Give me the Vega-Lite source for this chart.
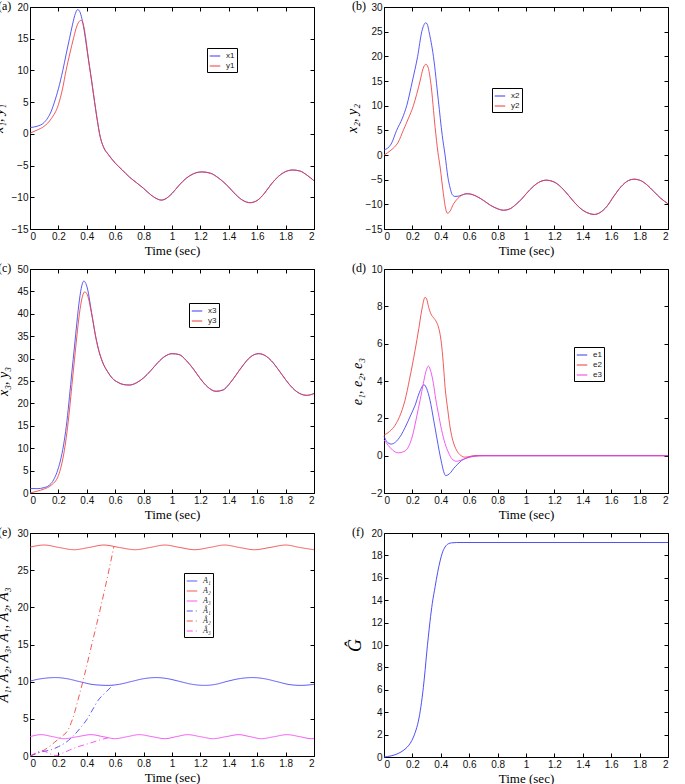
{
  "$schema": "https://vega.github.io/schema/vega-lite/v6.json",
  "background": "white",
  "padding": {"left": -10, "top": -1, "right": 0, "bottom": 0},
  "columns": 2,
  "spacing": {"row": 40, "column": 70},
  "bounds": "flush",
  "resolve": {"scale": {"color": "independent", "strokeDash": "independent"}, "legend": {"color": "independent", "strokeDash": "independent"}},
  "config": {
    "view": {"stroke": "#000", "strokeWidth": 1},
    "style": {
      "guide-label": {"font": "Liberation Sans", "fontSize": 10, "fill": "#111"},
      "guide-title": {"font": "Liberation Serif", "fontWeight": "normal", "fill": "#000"}
    },
    "axis": {"domain": false, "grid": false, "tickSize": -4, "tickColor": "#000", "labelFont": "Liberation Sans", "labelFontSize": 10, "labelColor": "#111", "labelPadding": 6, "titleFont": "Liberation Serif", "titleFontWeight": "normal", "titleColor": "#000", "format": "~r"},
    "axisX": {"titleFontSize": 13, "titlePadding": 3, "titleFont": "Liberation Serif", "titleFontWeight": "normal", "labelFont": "Liberation Sans"},
    "axisY": {"titleFontSize": 14, "titleFontStyle": "italic", "titlePadding": 6, "titleFont": "Liberation Serif", "titleFontWeight": "normal", "labelFont": "Liberation Sans"},
    "title": {"anchor": "start", "frame": "group", "dx": -32, "offset": -11, "fontSize": 12, "font": "Liberation Serif", "fontWeight": "normal", "color": "#000"},
    "legend": {"orient": "none", "strokeColor": "#000", "fillColor": "#fff", "padding": 2, "symbolType": "stroke", "symbolSize": 110, "symbolStrokeWidth": 1.2, "labelFont": "Liberation Sans", "labelFontSize": 8, "labelColor": "#222", "rowPadding": 0, "labelOffset": 5}
  },
  "concat": [
    {
      "title": "(a)",
      "width": 284, "height": 222,
      "data": {"values": [
        {"t":0,"v":1.0,"s":"x1"},{"t":0.05,"v":1.2,"s":"x1"},{"t":0.1,"v":1.8,"s":"x1"},{"t":0.15,"v":3.6,"s":"x1"},{"t":0.172,"v":5.0,"s":"x1"},{"t":0.2,"v":7.1,"s":"x1"},{"t":0.231,"v":10.0,"s":"x1"},{"t":0.255,"v":12.6,"s":"x1"},{"t":0.278,"v":15.0,"s":"x1"},{"t":0.3,"v":17.3,"s":"x1"},{"t":0.32,"v":19.0,"s":"x1"},{"t":0.336,"v":19.6,"s":"x1"},{"t":0.35,"v":19.3,"s":"x1"},{"t":0.365,"v":18.2,"s":"x1"},{"t":0.38,"v":16.5,"s":"x1"},{"t":0.4,"v":13.5,"s":"x1"},{"t":0.42,"v":10.5,"s":"x1"},
        {"t":0.435,"v":8.2,"s":"x1"},{"t":0.455,"v":5.0,"s":"x1"},{"t":0.475,"v":2.0,"s":"x1"},{"t":0.49,"v":0.0,"s":"x1"},{"t":0.52,"v":-2.2,"s":"x1"},{"t":0.55,"v":-3.2,"s":"x1"},{"t":0.6,"v":-4.6,"s":"x1"},{"t":0.65,"v":-5.7,"s":"x1"},{"t":0.7,"v":-6.8,"s":"x1"},{"t":0.75,"v":-7.7,"s":"x1"},{"t":0.8,"v":-8.6,"s":"x1"},{"t":0.85,"v":-9.6,"s":"x1"},{"t":0.9,"v":-10.3,"s":"x1"},{"t":0.925,"v":-10.45,"s":"x1"},{"t":0.95,"v":-10.3,"s":"x1"},{"t":1.0,"v":-9.4,"s":"x1"},{"t":1.05,"v":-8.1,"s":"x1"},{"t":1.1,"v":-7.0,"s":"x1"},{"t":1.15,"v":-6.3,"s":"x1"},{"t":1.21,"v":-6.0,"s":"x1"},{"t":1.27,"v":-6.2,"s":"x1"},{"t":1.33,"v":-7.0,"s":"x1"},{"t":1.4,"v":-8.4,"s":"x1"},{"t":1.45,"v":-9.6,"s":"x1"},{"t":1.5,"v":-10.5,"s":"x1"},{"t":1.55,"v":-10.85,"s":"x1"},{"t":1.6,"v":-10.5,"s":"x1"},{"t":1.65,"v":-9.4,"s":"x1"},{"t":1.7,"v":-7.9,"s":"x1"},{"t":1.75,"v":-6.7,"s":"x1"},{"t":1.8,"v":-5.95,"s":"x1"},{"t":1.85,"v":-5.7,"s":"x1"},{"t":1.9,"v":-5.85,"s":"x1"},{"t":1.95,"v":-6.5,"s":"x1"},{"t":2.0,"v":-7.4,"s":"x1"},
        {"t":0,"v":0.1,"s":"y1"},{"t":0.05,"v":0.6,"s":"y1"},{"t":0.1,"v":1.2,"s":"y1"},{"t":0.15,"v":2.4,"s":"y1"},{"t":0.2,"v":4.6,"s":"y1"},{"t":0.23,"v":7.2,"s":"y1"},{"t":0.254,"v":10.0,"s":"y1"},{"t":0.28,"v":12.6,"s":"y1"},{"t":0.308,"v":15.2,"s":"y1"},{"t":0.33,"v":17.0,"s":"y1"},{"t":0.35,"v":17.8,"s":"y1"},{"t":0.36,"v":17.9,"s":"y1"},{"t":0.375,"v":17.3,"s":"y1"},{"t":0.39,"v":15.5,"s":"y1"},{"t":0.41,"v":12.0,"s":"y1"},
        {"t":0.435,"v":8.2,"s":"y1"},{"t":0.455,"v":5.0,"s":"y1"},{"t":0.475,"v":2.0,"s":"y1"},{"t":0.49,"v":0.0,"s":"y1"},{"t":0.52,"v":-2.2,"s":"y1"},{"t":0.55,"v":-3.2,"s":"y1"},{"t":0.6,"v":-4.6,"s":"y1"},{"t":0.65,"v":-5.7,"s":"y1"},{"t":0.7,"v":-6.8,"s":"y1"},{"t":0.75,"v":-7.7,"s":"y1"},{"t":0.8,"v":-8.6,"s":"y1"},{"t":0.85,"v":-9.6,"s":"y1"},{"t":0.9,"v":-10.3,"s":"y1"},{"t":0.925,"v":-10.45,"s":"y1"},{"t":0.95,"v":-10.3,"s":"y1"},{"t":1.0,"v":-9.4,"s":"y1"},{"t":1.05,"v":-8.1,"s":"y1"},{"t":1.1,"v":-7.0,"s":"y1"},{"t":1.15,"v":-6.3,"s":"y1"},{"t":1.21,"v":-6.0,"s":"y1"},{"t":1.27,"v":-6.2,"s":"y1"},{"t":1.33,"v":-7.0,"s":"y1"},{"t":1.4,"v":-8.4,"s":"y1"},{"t":1.45,"v":-9.6,"s":"y1"},{"t":1.5,"v":-10.5,"s":"y1"},{"t":1.55,"v":-10.85,"s":"y1"},{"t":1.6,"v":-10.5,"s":"y1"},{"t":1.65,"v":-9.4,"s":"y1"},{"t":1.7,"v":-7.9,"s":"y1"},{"t":1.75,"v":-6.7,"s":"y1"},{"t":1.8,"v":-5.95,"s":"y1"},{"t":1.85,"v":-5.7,"s":"y1"},{"t":1.9,"v":-5.85,"s":"y1"},{"t":1.95,"v":-6.5,"s":"y1"},{"t":2.0,"v":-7.4,"s":"y1"}
      ]},
      "layer": [
        {"mark": {"type": "line", "strokeWidth": 1, "interpolate": "monotone", "opacity": 0.85},
         "encoding": {
           "x": {"field": "t", "type": "quantitative", "scale": {"domain": [0, 2], "nice": false, "zero": false}, "axis": {"orient": "bottom", "values": [0,0.2,0.4,0.6,0.8,1,1.2,1.4,1.6,1.8,2], "format": "~r", "title": "Time (sec)", "titleFontWeight": "normal"}},
           "y": {"field": "v", "type": "quantitative", "scale": {"domain": [-15, 20], "nice": false, "zero": false}, "axis": {"orient": "left", "values": [-15,-10,-5,0,5,10,15,20], "format": "~r", "title": "x₁, y₁"}},
           "color": {"field": "s", "type": "nominal", "scale": {"domain": ["x1", "y1"], "range": ["#3c3cf5", "#f03c3c"]}, "legend": {"title": null, "legendX": 177, "legendY": 41}}
         }},
        {"mark": {"type": "line", "opacity": 0},
         "encoding": {
           "x": {"field": "t", "type": "quantitative", "axis": {"orient": "top", "values": [0,0.2,0.4,0.6,0.8,1,1.2,1.4,1.6,1.8,2], "labels": false, "title": null}},
           "y": {"field": "v", "type": "quantitative", "axis": {"orient": "right", "values": [-15,-10,-5,0,5,10,15,20], "labels": false, "title": null}}
         }}
      ],
      "resolve": {"axis": {"x": "independent", "y": "independent"}}
    },
    {
      "title": "(b)",
      "width": 284, "height": 222,
      "data": {"values": [
        {"t":0,"v":1.0,"s":"x2"},{"t":0.05,"v":2.2,"s":"x2"},{"t":0.089,"v":5.0,"s":"x2"},{"t":0.13,"v":7.5,"s":"x2"},{"t":0.16,"v":10.0,"s":"x2"},{"t":0.2,"v":15.0,"s":"x2"},{"t":0.237,"v":20.0,"s":"x2"},{"t":0.266,"v":25.0,"s":"x2"},{"t":0.28,"v":26.3,"s":"x2"},{"t":0.294,"v":26.8,"s":"x2"},{"t":0.305,"v":26.5,"s":"x2"},{"t":0.317,"v":25.0,"s":"x2"},{"t":0.348,"v":20.0,"s":"x2"},{"t":0.383,"v":11.0,"s":"x2"},{"t":0.41,"v":4.0,"s":"x2"},{"t":0.43,"v":0.0,"s":"x2"},{"t":0.45,"v":-4.5,"s":"x2"},{"t":0.465,"v":-6.6,"s":"x2"},{"t":0.48,"v":-8.0,"s":"x2"},{"t":0.5,"v":-8.4,"s":"x2"},{"t":0.53,"v":-8.3,"s":"x2"},{"t":0.56,"v":-8.0,"s":"x2"},
        {"t":0.585,"v":-7.85,"s":"x2"},{"t":0.62,"v":-8.0,"s":"x2"},{"t":0.66,"v":-8.5,"s":"x2"},{"t":0.7,"v":-9.2,"s":"x2"},{"t":0.75,"v":-10.2,"s":"x2"},{"t":0.8,"v":-10.9,"s":"x2"},{"t":0.84,"v":-11.2,"s":"x2"},{"t":0.88,"v":-11.0,"s":"x2"},{"t":0.93,"v":-10.0,"s":"x2"},{"t":0.97,"v":-8.9,"s":"x2"},{"t":1.0,"v":-7.9,"s":"x2"},{"t":1.05,"v":-6.4,"s":"x2"},{"t":1.1,"v":-5.4,"s":"x2"},{"t":1.14,"v":-5.1,"s":"x2"},{"t":1.2,"v":-5.5,"s":"x2"},{"t":1.25,"v":-6.6,"s":"x2"},{"t":1.3,"v":-8.2,"s":"x2"},{"t":1.35,"v":-9.9,"s":"x2"},{"t":1.4,"v":-11.2,"s":"x2"},{"t":1.45,"v":-11.9,"s":"x2"},{"t":1.48,"v":-12.05,"s":"x2"},{"t":1.52,"v":-11.7,"s":"x2"},{"t":1.57,"v":-10.4,"s":"x2"},{"t":1.62,"v":-8.3,"s":"x2"},{"t":1.67,"v":-6.4,"s":"x2"},{"t":1.72,"v":-5.2,"s":"x2"},{"t":1.76,"v":-4.9,"s":"x2"},{"t":1.8,"v":-5.1,"s":"x2"},{"t":1.85,"v":-6.0,"s":"x2"},{"t":1.9,"v":-7.4,"s":"x2"},{"t":1.95,"v":-8.8,"s":"x2"},{"t":2.0,"v":-9.9,"s":"x2"},
        {"t":0,"v":0.0,"s":"y2"},{"t":0.05,"v":1.0,"s":"y2"},{"t":0.1,"v":2.6,"s":"y2"},{"t":0.136,"v":5.0,"s":"y2"},{"t":0.17,"v":7.3,"s":"y2"},{"t":0.207,"v":10.0,"s":"y2"},{"t":0.23,"v":12.3,"s":"y2"},{"t":0.254,"v":15.0,"s":"y2"},{"t":0.275,"v":17.5,"s":"y2"},{"t":0.294,"v":18.4,"s":"y2"},{"t":0.31,"v":17.8,"s":"y2"},{"t":0.33,"v":14.5,"s":"y2"},{"t":0.36,"v":5.6,"s":"y2"},{"t":0.38,"v":0.5,"s":"y2"},{"t":0.395,"v":-2.4,"s":"y2"},{"t":0.418,"v":-7.8,"s":"y2"},{"t":0.435,"v":-11.0,"s":"y2"},{"t":0.447,"v":-11.8,"s":"y2"},{"t":0.46,"v":-11.6,"s":"y2"},{"t":0.49,"v":-9.9,"s":"y2"},{"t":0.52,"v":-8.8,"s":"y2"},{"t":0.55,"v":-8.1,"s":"y2"},
        {"t":0.585,"v":-7.85,"s":"y2"},{"t":0.62,"v":-8.0,"s":"y2"},{"t":0.66,"v":-8.5,"s":"y2"},{"t":0.7,"v":-9.2,"s":"y2"},{"t":0.75,"v":-10.2,"s":"y2"},{"t":0.8,"v":-10.9,"s":"y2"},{"t":0.84,"v":-11.2,"s":"y2"},{"t":0.88,"v":-11.0,"s":"y2"},{"t":0.93,"v":-10.0,"s":"y2"},{"t":0.97,"v":-8.9,"s":"y2"},{"t":1.0,"v":-7.9,"s":"y2"},{"t":1.05,"v":-6.4,"s":"y2"},{"t":1.1,"v":-5.4,"s":"y2"},{"t":1.14,"v":-5.1,"s":"y2"},{"t":1.2,"v":-5.5,"s":"y2"},{"t":1.25,"v":-6.6,"s":"y2"},{"t":1.3,"v":-8.2,"s":"y2"},{"t":1.35,"v":-9.9,"s":"y2"},{"t":1.4,"v":-11.2,"s":"y2"},{"t":1.45,"v":-11.9,"s":"y2"},{"t":1.48,"v":-12.05,"s":"y2"},{"t":1.52,"v":-11.7,"s":"y2"},{"t":1.57,"v":-10.4,"s":"y2"},{"t":1.62,"v":-8.3,"s":"y2"},{"t":1.67,"v":-6.4,"s":"y2"},{"t":1.72,"v":-5.2,"s":"y2"},{"t":1.76,"v":-4.9,"s":"y2"},{"t":1.8,"v":-5.1,"s":"y2"},{"t":1.85,"v":-6.0,"s":"y2"},{"t":1.9,"v":-7.4,"s":"y2"},{"t":1.95,"v":-8.8,"s":"y2"},{"t":2.0,"v":-9.9,"s":"y2"}
      ]},
      "layer": [
        {"mark": {"type": "line", "strokeWidth": 1, "interpolate": "monotone", "opacity": 0.85},
         "encoding": {
           "x": {"field": "t", "type": "quantitative", "scale": {"domain": [0, 2], "nice": false, "zero": false}, "axis": {"orient": "bottom", "values": [0,0.2,0.4,0.6,0.8,1,1.2,1.4,1.6,1.8,2], "format": "~r", "title": "Time (sec)", "titleFontWeight": "normal"}},
           "y": {"field": "v", "type": "quantitative", "scale": {"domain": [-15, 30], "nice": false, "zero": false}, "axis": {"orient": "left", "values": [-15,-10,-5,0,5,10,15,20,25,30], "format": "~r", "title": "x₂, y₂"}},
           "color": {"field": "s", "type": "nominal", "scale": {"domain": ["x2", "y2"], "range": ["#3c3cf5", "#f03c3c"]}, "legend": {"title": null, "legendX": 108, "legendY": 81}}
         }},
        {"mark": {"type": "line", "opacity": 0},
         "encoding": {
           "x": {"field": "t", "type": "quantitative", "axis": {"orient": "top", "values": [0,0.2,0.4,0.6,0.8,1,1.2,1.4,1.6,1.8,2], "labels": false, "title": null}},
           "y": {"field": "v", "type": "quantitative", "axis": {"orient": "right", "values": [-15,-10,-5,0,5,10,15,20,25,30], "labels": false, "title": null}}
         }}
      ],
      "resolve": {"axis": {"x": "independent", "y": "independent"}}
    },
    {
      "title": "(c)",
      "width": 284, "height": 224,
      "data": {"values": [
        {"t":0,"v":1.0,"s":"x3"},{"t":0.05,"v":0.97,"s":"x3"},{"t":0.1,"v":1.2,"s":"x3"},{"t":0.148,"v":2.1,"s":"x3"},{"t":0.195,"v":5.1,"s":"x3"},{"t":0.22,"v":8.0,"s":"x3"},{"t":0.242,"v":11.8,"s":"x3"},{"t":0.26,"v":16.0,"s":"x3"},{"t":0.278,"v":21.5,"s":"x3"},{"t":0.295,"v":27.0,"s":"x3"},{"t":0.313,"v":32.6,"s":"x3"},{"t":0.33,"v":38.0,"s":"x3"},{"t":0.348,"v":43.1,"s":"x3"},{"t":0.365,"v":46.3,"s":"x3"},{"t":0.379,"v":47.3,"s":"x3"},{"t":0.393,"v":46.8,"s":"x3"},{"t":0.407,"v":45.3,"s":"x3"},{"t":0.425,"v":42.0,"s":"x3"},{"t":0.442,"v":38.6,"s":"x3"},
        {"t":0.46,"v":35.3,"s":"x3"},{"t":0.478,"v":32.6,"s":"x3"},{"t":0.51,"v":29.3,"s":"x3"},{"t":0.548,"v":27.0,"s":"x3"},{"t":0.58,"v":25.6,"s":"x3"},{"t":0.619,"v":24.7,"s":"x3"},{"t":0.66,"v":24.2,"s":"x3"},{"t":0.7,"v":24.1,"s":"x3"},{"t":0.75,"v":24.6,"s":"x3"},{"t":0.8,"v":25.7,"s":"x3"},{"t":0.85,"v":27.3,"s":"x3"},{"t":0.9,"v":29.1,"s":"x3"},{"t":0.95,"v":30.5,"s":"x3"},{"t":1.0,"v":31.1,"s":"x3"},{"t":1.05,"v":30.9,"s":"x3"},{"t":1.1,"v":29.6,"s":"x3"},{"t":1.15,"v":27.7,"s":"x3"},{"t":1.2,"v":25.5,"s":"x3"},{"t":1.25,"v":23.7,"s":"x3"},{"t":1.31,"v":22.7,"s":"x3"},{"t":1.36,"v":23.0,"s":"x3"},{"t":1.4,"v":24.2,"s":"x3"},{"t":1.45,"v":26.3,"s":"x3"},{"t":1.5,"v":28.5,"s":"x3"},{"t":1.55,"v":30.3,"s":"x3"},{"t":1.61,"v":31.1,"s":"x3"},{"t":1.66,"v":30.6,"s":"x3"},{"t":1.7,"v":29.5,"s":"x3"},{"t":1.75,"v":27.5,"s":"x3"},{"t":1.8,"v":25.3,"s":"x3"},{"t":1.85,"v":23.4,"s":"x3"},{"t":1.9,"v":22.2,"s":"x3"},{"t":1.95,"v":21.8,"s":"x3"},{"t":2.0,"v":22.2,"s":"x3"},
        {"t":0,"v":0.0,"s":"y3"},{"t":0.05,"v":0.4,"s":"y3"},{"t":0.1,"v":0.9,"s":"y3"},{"t":0.148,"v":1.7,"s":"y3"},{"t":0.2,"v":3.9,"s":"y3"},{"t":0.22,"v":6.0,"s":"y3"},{"t":0.242,"v":9.5,"s":"y3"},{"t":0.26,"v":13.5,"s":"y3"},{"t":0.278,"v":18.5,"s":"y3"},{"t":0.295,"v":24.0,"s":"y3"},{"t":0.313,"v":29.7,"s":"y3"},{"t":0.33,"v":35.0,"s":"y3"},{"t":0.348,"v":40.0,"s":"y3"},{"t":0.365,"v":43.3,"s":"y3"},{"t":0.385,"v":44.9,"s":"y3"},{"t":0.4,"v":44.5,"s":"y3"},{"t":0.415,"v":43.0,"s":"y3"},{"t":0.43,"v":40.6,"s":"y3"},{"t":0.445,"v":38.2,"s":"y3"},
        {"t":0.46,"v":35.3,"s":"y3"},{"t":0.478,"v":32.6,"s":"y3"},{"t":0.51,"v":29.3,"s":"y3"},{"t":0.548,"v":27.0,"s":"y3"},{"t":0.58,"v":25.6,"s":"y3"},{"t":0.619,"v":24.7,"s":"y3"},{"t":0.66,"v":24.2,"s":"y3"},{"t":0.7,"v":24.1,"s":"y3"},{"t":0.75,"v":24.6,"s":"y3"},{"t":0.8,"v":25.7,"s":"y3"},{"t":0.85,"v":27.3,"s":"y3"},{"t":0.9,"v":29.1,"s":"y3"},{"t":0.95,"v":30.5,"s":"y3"},{"t":1.0,"v":31.1,"s":"y3"},{"t":1.05,"v":30.9,"s":"y3"},{"t":1.1,"v":29.6,"s":"y3"},{"t":1.15,"v":27.7,"s":"y3"},{"t":1.2,"v":25.5,"s":"y3"},{"t":1.25,"v":23.7,"s":"y3"},{"t":1.31,"v":22.7,"s":"y3"},{"t":1.36,"v":23.0,"s":"y3"},{"t":1.4,"v":24.2,"s":"y3"},{"t":1.45,"v":26.3,"s":"y3"},{"t":1.5,"v":28.5,"s":"y3"},{"t":1.55,"v":30.3,"s":"y3"},{"t":1.61,"v":31.1,"s":"y3"},{"t":1.66,"v":30.6,"s":"y3"},{"t":1.7,"v":29.5,"s":"y3"},{"t":1.75,"v":27.5,"s":"y3"},{"t":1.8,"v":25.3,"s":"y3"},{"t":1.85,"v":23.4,"s":"y3"},{"t":1.9,"v":22.2,"s":"y3"},{"t":1.95,"v":21.8,"s":"y3"},{"t":2.0,"v":22.2,"s":"y3"}
      ]},
      "layer": [
        {"mark": {"type": "line", "strokeWidth": 1, "interpolate": "monotone", "opacity": 0.85},
         "encoding": {
           "x": {"field": "t", "type": "quantitative", "scale": {"domain": [0, 2], "nice": false, "zero": false}, "axis": {"orient": "bottom", "values": [0,0.2,0.4,0.6,0.8,1,1.2,1.4,1.6,1.8,2], "format": "~r", "title": "Time (sec)", "titleFontWeight": "normal"}},
           "y": {"field": "v", "type": "quantitative", "scale": {"domain": [0, 50], "nice": false, "zero": false}, "axis": {"orient": "left", "values": [0,5,10,15,20,25,30,35,40,45,50], "format": "~r", "title": "x₃, y₃"}},
           "color": {"field": "s", "type": "nominal", "scale": {"domain": ["x3", "y3"], "range": ["#3c3cf5", "#f03c3c"]}, "legend": {"title": null, "legendX": 159, "legendY": 34}}
         }},
        {"mark": {"type": "line", "opacity": 0},
         "encoding": {
           "x": {"field": "t", "type": "quantitative", "axis": {"orient": "top", "values": [0,0.2,0.4,0.6,0.8,1,1.2,1.4,1.6,1.8,2], "labels": false, "title": null}},
           "y": {"field": "v", "type": "quantitative", "axis": {"orient": "right", "values": [0,5,10,15,20,25,30,35,40,45,50], "labels": false, "title": null}}
         }}
      ],
      "resolve": {"axis": {"x": "independent", "y": "independent"}}
    },
    {
      "title": "(d)",
      "width": 284, "height": 224,
      "data": {"values": [
        {"t":0,"v":1.05,"s":"e1"},{"t":0.02,"v":0.75,"s":"e1"},{"t":0.05,"v":0.62,"s":"e1"},{"t":0.08,"v":0.72,"s":"e1"},{"t":0.12,"v":1.1,"s":"e1"},{"t":0.148,"v":1.5,"s":"e1"},{"t":0.19,"v":2.2,"s":"e1"},{"t":0.219,"v":2.7,"s":"e1"},{"t":0.25,"v":3.4,"s":"e1"},{"t":0.282,"v":3.8,"s":"e1"},{"t":0.3,"v":3.6,"s":"e1"},{"t":0.324,"v":2.97,"s":"e1"},{"t":0.35,"v":1.9,"s":"e1"},{"t":0.371,"v":1.0,"s":"e1"},{"t":0.39,"v":0.2,"s":"e1"},{"t":0.407,"v":-0.43,"s":"e1"},{"t":0.42,"v":-0.85,"s":"e1"},{"t":0.435,"v":-1.07,"s":"e1"},{"t":0.45,"v":-1.03,"s":"e1"},{"t":0.47,"v":-0.9,"s":"e1"},{"t":0.489,"v":-0.7,"s":"e1"},{"t":0.52,"v":-0.45,"s":"e1"},{"t":0.548,"v":-0.25,"s":"e1"},{"t":0.58,"v":-0.13,"s":"e1"},{"t":0.618,"v":-0.05,"s":"e1"},{"t":0.665,"v":0.0,"s":"e1"},{"t":2.0,"v":0.0,"s":"e1"},
        {"t":0,"v":1.1,"s":"e2"},{"t":0.04,"v":1.3,"s":"e2"},{"t":0.078,"v":1.63,"s":"e2"},{"t":0.11,"v":2.1,"s":"e2"},{"t":0.148,"v":2.97,"s":"e2"},{"t":0.18,"v":4.1,"s":"e2"},{"t":0.219,"v":5.65,"s":"e2"},{"t":0.245,"v":6.8,"s":"e2"},{"t":0.266,"v":7.8,"s":"e2"},{"t":0.289,"v":8.48,"s":"e2"},{"t":0.3,"v":8.4,"s":"e2"},{"t":0.313,"v":8.0,"s":"e2"},{"t":0.33,"v":7.6,"s":"e2"},{"t":0.348,"v":7.4,"s":"e2"},{"t":0.37,"v":7.15,"s":"e2"},{"t":0.383,"v":6.9,"s":"e2"},{"t":0.395,"v":6.5,"s":"e2"},{"t":0.407,"v":5.83,"s":"e2"},{"t":0.42,"v":4.7,"s":"e2"},{"t":0.43,"v":3.69,"s":"e2"},{"t":0.45,"v":2.4,"s":"e2"},{"t":0.465,"v":1.54,"s":"e2"},{"t":0.48,"v":0.95,"s":"e2"},{"t":0.5,"v":0.47,"s":"e2"},{"t":0.52,"v":0.18,"s":"e2"},{"t":0.543,"v":0.0,"s":"e2"},{"t":0.565,"v":-0.08,"s":"e2"},{"t":0.6,"v":-0.05,"s":"e2"},{"t":0.63,"v":0.0,"s":"e2"},{"t":2.0,"v":0.0,"s":"e2"},
        {"t":0,"v":0.85,"s":"e3"},{"t":0.03,"v":0.55,"s":"e3"},{"t":0.06,"v":0.3,"s":"e3"},{"t":0.1,"v":0.15,"s":"e3"},{"t":0.14,"v":0.22,"s":"e3"},{"t":0.172,"v":0.47,"s":"e3"},{"t":0.2,"v":1.05,"s":"e3"},{"t":0.23,"v":2.08,"s":"e3"},{"t":0.255,"v":3.0,"s":"e3"},{"t":0.277,"v":3.87,"s":"e3"},{"t":0.295,"v":4.5,"s":"e3"},{"t":0.313,"v":4.8,"s":"e3"},{"t":0.33,"v":4.5,"s":"e3"},{"t":0.348,"v":3.87,"s":"e3"},{"t":0.365,"v":3.0,"s":"e3"},{"t":0.383,"v":2.26,"s":"e3"},{"t":0.405,"v":1.4,"s":"e3"},{"t":0.43,"v":0.65,"s":"e3"},{"t":0.455,"v":0.15,"s":"e3"},{"t":0.477,"v":-0.16,"s":"e3"},{"t":0.512,"v":-0.3,"s":"e3"},{"t":0.54,"v":-0.25,"s":"e3"},{"t":0.571,"v":-0.16,"s":"e3"},{"t":0.6,"v":-0.08,"s":"e3"},{"t":0.642,"v":-0.03,"s":"e3"},{"t":0.7,"v":0.0,"s":"e3"},{"t":2.0,"v":0.0,"s":"e3"}
      ]},
      "layer": [
        {"mark": {"type": "line", "strokeWidth": 1, "interpolate": "monotone", "opacity": 0.85},
         "encoding": {
           "x": {"field": "t", "type": "quantitative", "scale": {"domain": [0, 2], "nice": false, "zero": false}, "axis": {"orient": "bottom", "values": [0,0.2,0.4,0.6,0.8,1,1.2,1.4,1.6,1.8,2], "format": "~r", "title": "Time (sec)", "titleFontWeight": "normal"}},
           "y": {"field": "v", "type": "quantitative", "scale": {"domain": [-2, 10], "nice": false, "zero": false}, "axis": {"orient": "left", "values": [-2,0,2,4,6,8,10], "format": "~r", "title": "e₁, e₂, e₃"}},
           "color": {"field": "s", "type": "nominal", "scale": {"domain": ["e1", "e2", "e3"], "range": ["#3c3cf5", "#f03c3c", "#f03cf0"]}, "legend": {"title": null, "legendX": 190, "legendY": 78}}
         }},
        {"mark": {"type": "line", "opacity": 0},
         "encoding": {
           "x": {"field": "t", "type": "quantitative", "axis": {"orient": "top", "values": [0,0.2,0.4,0.6,0.8,1,1.2,1.4,1.6,1.8,2], "labels": false, "title": null}},
           "y": {"field": "v", "type": "quantitative", "axis": {"orient": "right", "values": [-2,0,2,4,6,8,10], "labels": false, "title": null}}
         }}
      ],
      "resolve": {"axis": {"x": "independent", "y": "independent"}}
    },
    {
      "title": "(e)",
      "width": 284, "height": 223,
      "data": {"values": [
        {"t":0,"v":10.07,"s":"A₁"},{"t":0.05,"v":10.3,"s":"A₁"},{"t":0.1,"v":10.45,"s":"A₁"},{"t":0.18,"v":10.55,"s":"A₁"},{"t":0.26,"v":10.4,"s":"A₁"},{"t":0.35,"v":10.0,"s":"A₁"},{"t":0.45,"v":9.6,"s":"A₁"},{"t":0.55,"v":9.5,"s":"A₁"},{"t":0.63,"v":9.65,"s":"A₁"},{"t":0.72,"v":10.05,"s":"A₁"},{"t":0.8,"v":10.4,"s":"A₁"},{"t":0.89,"v":10.55,"s":"A₁"},{"t":0.97,"v":10.4,"s":"A₁"},{"t":1.05,"v":10.05,"s":"A₁"},{"t":1.14,"v":9.65,"s":"A₁"},{"t":1.23,"v":9.5,"s":"A₁"},{"t":1.31,"v":9.65,"s":"A₁"},{"t":1.39,"v":10.05,"s":"A₁"},{"t":1.48,"v":10.42,"s":"A₁"},{"t":1.57,"v":10.55,"s":"A₁"},{"t":1.65,"v":10.4,"s":"A₁"},{"t":1.74,"v":10.0,"s":"A₁"},{"t":1.83,"v":9.6,"s":"A₁"},{"t":1.91,"v":9.5,"s":"A₁"},{"t":2.0,"v":9.65,"s":"A₁"},
        {"t":0,"v":28.1,"s":"A₂"},{"t":0.1,"v":28.38,"s":"A₂"},{"t":0.205,"v":28.05,"s":"A₂"},{"t":0.31,"v":27.75,"s":"A₂"},{"t":0.415,"v":28.05,"s":"A₂"},{"t":0.52,"v":28.38,"s":"A₂"},{"t":0.63,"v":28.05,"s":"A₂"},{"t":0.74,"v":27.75,"s":"A₂"},{"t":0.845,"v":28.05,"s":"A₂"},{"t":0.95,"v":28.38,"s":"A₂"},{"t":1.055,"v":28.05,"s":"A₂"},{"t":1.16,"v":27.75,"s":"A₂"},{"t":1.265,"v":28.05,"s":"A₂"},{"t":1.37,"v":28.38,"s":"A₂"},{"t":1.475,"v":28.05,"s":"A₂"},{"t":1.58,"v":27.75,"s":"A₂"},{"t":1.69,"v":28.05,"s":"A₂"},{"t":1.8,"v":28.38,"s":"A₂"},{"t":1.9,"v":28.05,"s":"A₂"},{"t":2.0,"v":27.75,"s":"A₂"},
        {"t":0,"v":2.6,"s":"A₃"},{"t":0.078,"v":2.87,"s":"A₃"},{"t":0.16,"v":2.6,"s":"A₃"},{"t":0.24,"v":2.33,"s":"A₃"},{"t":0.335,"v":2.6,"s":"A₃"},{"t":0.43,"v":2.87,"s":"A₃"},{"t":0.515,"v":2.6,"s":"A₃"},{"t":0.6,"v":2.33,"s":"A₃"},{"t":0.685,"v":2.6,"s":"A₃"},{"t":0.77,"v":2.87,"s":"A₃"},{"t":0.86,"v":2.6,"s":"A₃"},{"t":0.95,"v":2.33,"s":"A₃"},{"t":1.03,"v":2.6,"s":"A₃"},{"t":1.11,"v":2.87,"s":"A₃"},{"t":1.2,"v":2.6,"s":"A₃"},{"t":1.29,"v":2.33,"s":"A₃"},{"t":1.38,"v":2.6,"s":"A₃"},{"t":1.47,"v":2.87,"s":"A₃"},{"t":1.55,"v":2.6,"s":"A₃"},{"t":1.63,"v":2.33,"s":"A₃"},{"t":1.72,"v":2.6,"s":"A₃"},{"t":1.81,"v":2.87,"s":"A₃"},{"t":1.9,"v":2.6,"s":"A₃"},{"t":1.98,"v":2.33,"s":"A₃"},{"t":2.0,"v":2.35,"s":"A₃"},
        {"t":0,"v":0,"s":"Â₁"},{"t":0.05,"v":0.35,"s":"Â₁"},{"t":0.09,"v":0.6,"s":"Â₁"},{"t":0.12,"v":0.7,"s":"Â₁"},{"t":0.15,"v":0.85,"s":"Â₁"},{"t":0.2,"v":1.25,"s":"Â₁"},{"t":0.25,"v":1.8,"s":"Â₁"},{"t":0.3,"v":2.6,"s":"Â₁"},{"t":0.36,"v":3.9,"s":"Â₁"},{"t":0.4,"v":4.9,"s":"Â₁"},{"t":0.44,"v":6.2,"s":"Â₁"},{"t":0.48,"v":7.5,"s":"Â₁"},{"t":0.53,"v":8.5,"s":"Â₁"},{"t":0.585,"v":9.55,"s":"Â₁"},
        {"t":0,"v":0,"s":"Â₂"},{"t":0.05,"v":0.4,"s":"Â₂"},{"t":0.1,"v":0.8,"s":"Â₂"},{"t":0.145,"v":1.4,"s":"Â₂"},{"t":0.17,"v":1.8,"s":"Â₂"},{"t":0.22,"v":2.6,"s":"Â₂"},{"t":0.268,"v":3.5,"s":"Â₂"},{"t":0.3,"v":5.0,"s":"Â₂"},{"t":0.35,"v":8.4,"s":"Â₂"},{"t":0.384,"v":10.9,"s":"Â₂"},{"t":0.43,"v":14.6,"s":"Â₂"},{"t":0.5,"v":20.2,"s":"Â₂"},{"t":0.548,"v":24.3,"s":"Â₂"},{"t":0.591,"v":28.2,"s":"Â₂"},
        {"t":0,"v":0,"s":"Â₃"},{"t":0.04,"v":0.4,"s":"Â₃"},{"t":0.08,"v":0.7,"s":"Â₃"},{"t":0.1,"v":0.65,"s":"Â₃"},{"t":0.14,"v":0.3,"s":"Â₃"},{"t":0.19,"v":0.05,"s":"Â₃"},{"t":0.23,"v":0.4,"s":"Â₃"},{"t":0.28,"v":0.8,"s":"Â₃"},{"t":0.33,"v":1.2,"s":"Â₃"},{"t":0.4,"v":1.6,"s":"Â₃"},{"t":0.45,"v":1.9,"s":"Â₃"},{"t":0.5,"v":2.2,"s":"Â₃"},{"t":0.55,"v":2.45,"s":"Â₃"}
      ]},
      "layer": [
        {"mark": {"type": "line", "strokeWidth": 1, "interpolate": "monotone", "opacity": 0.85},
         "encoding": {
           "x": {"field": "t", "type": "quantitative", "scale": {"domain": [0, 2], "nice": false, "zero": false}, "axis": {"orient": "bottom", "values": [0,0.2,0.4,0.6,0.8,1,1.2,1.4,1.6,1.8,2], "format": "~r", "title": "Time (sec)", "titleFontWeight": "normal"}},
           "y": {"field": "v", "type": "quantitative", "scale": {"domain": [0, 30], "nice": false, "zero": false}, "axis": {"orient": "left", "values": [0,5,10,15,20,25,30], "format": "~r", "title": "A₁, A₂, A₃, Â₁, Â₂, Â₃"}},
           "color": {"field": "s", "type": "nominal", "scale": {"domain": ["A₁", "A₂", "A₃", "Â₁", "Â₂", "Â₃"], "range": ["#3c3cf5", "#f03c3c", "#f03cf0", "#3c3cf5", "#f03c3c", "#f03cf0"]}, "legend": {"title": null, "legendX": 154, "legendY": 40, "labelFont": "Liberation Serif", "labelFontStyle": "italic", "labelFontSize": 8}},
           "strokeDash": {"field": "s", "type": "nominal", "scale": {"domain": ["A₁", "A₂", "A₃", "Â₁", "Â₂", "Â₃"], "range": [[1, 0], [1, 0], [1, 0], [6, 3, 1, 3], [6, 3, 1, 3], [6, 3, 1, 3]]}, "legend": {"title": null, "legendX": 154, "legendY": 40, "labelFont": "Liberation Serif", "labelFontStyle": "italic", "labelFontSize": 8}}
         }},
        {"mark": {"type": "line", "opacity": 0},
         "encoding": {
           "x": {"field": "t", "type": "quantitative", "axis": {"orient": "top", "values": [0,0.2,0.4,0.6,0.8,1,1.2,1.4,1.6,1.8,2], "labels": false, "title": null}},
           "y": {"field": "v", "type": "quantitative", "axis": {"orient": "right", "values": [0,5,10,15,20,25,30], "labels": false, "title": null}}
         }}
      ],
      "resolve": {"axis": {"x": "independent", "y": "independent"}}
    },
    {
      "title": "(f)",
      "width": 284, "height": 224,
      "data": {"values": [
        {"t":0,"v":0.0},{"t":0.05,"v":0.1},{"t":0.078,"v":0.2},{"t":0.12,"v":0.45},{"t":0.148,"v":0.7},{"t":0.175,"v":1.05},{"t":0.195,"v":1.45},{"t":0.22,"v":2.2},{"t":0.242,"v":3.2},{"t":0.26,"v":4.5},{"t":0.277,"v":6.2},{"t":0.29,"v":7.8},{"t":0.3,"v":9.2},{"t":0.312,"v":10.7},{"t":0.324,"v":12.1},{"t":0.34,"v":13.7},{"t":0.36,"v":15.2},{"t":0.378,"v":16.5},{"t":0.395,"v":17.5},{"t":0.41,"v":18.2},{"t":0.43,"v":18.75},{"t":0.455,"v":19.05},{"t":0.477,"v":19.12},{"t":0.512,"v":19.15},{"t":2.0,"v":19.15}
      ]},
      "layer": [
        {"mark": {"type": "line", "strokeWidth": 1, "interpolate": "monotone", "color": "#3c3cf5", "opacity": 0.9},
         "encoding": {
           "x": {"field": "t", "type": "quantitative", "scale": {"domain": [0, 2], "nice": false, "zero": false}, "axis": {"orient": "bottom", "values": [0,0.2,0.4,0.6,0.8,1,1.2,1.4,1.6,1.8,2], "format": "~r", "title": "Time (sec)", "titleFontWeight": "normal"}},
           "y": {"field": "v", "type": "quantitative", "scale": {"domain": [0, 20], "nice": false, "zero": false}, "axis": {"orient": "left", "values": [0,2,4,6,8,10,12,14,16,18,20], "format": "~r", "title": "Ĝ", "titleFontSize": 18}}
         }},
        {"mark": {"type": "line", "opacity": 0},
         "encoding": {
           "x": {"field": "t", "type": "quantitative", "axis": {"orient": "top", "values": [0,0.2,0.4,0.6,0.8,1,1.2,1.4,1.6,1.8,2], "labels": false, "title": null}},
           "y": {"field": "v", "type": "quantitative", "axis": {"orient": "right", "values": [0,2,4,6,8,10,12,14,16,18,20], "labels": false, "title": null}}
         }}
      ],
      "resolve": {"axis": {"x": "independent", "y": "independent"}}
    }
  ]
}
